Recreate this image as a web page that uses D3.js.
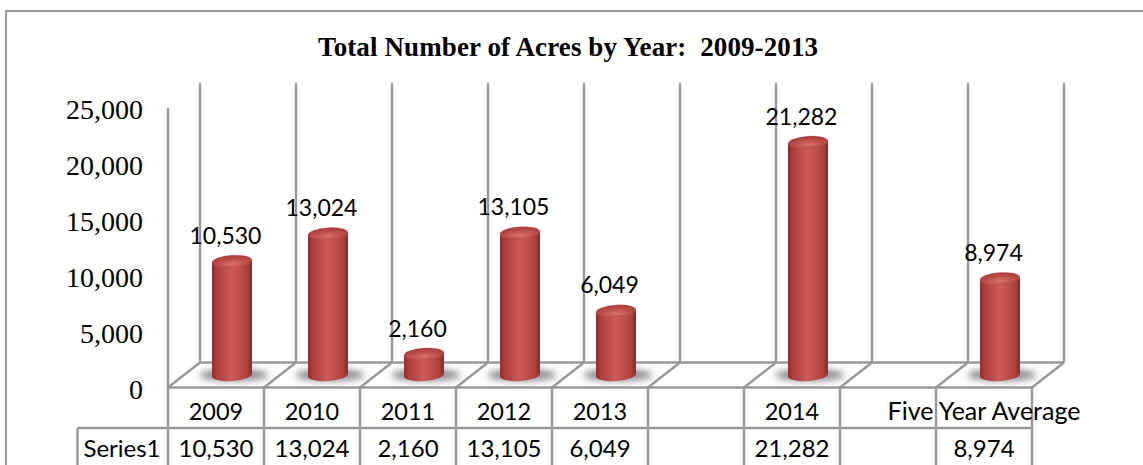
<!DOCTYPE html>
<html><head><meta charset="utf-8">
<script src="https://cdn.jsdelivr.net/npm/d3@7/dist/d3.min.js"></script>
<style>html,body{margin:0;padding:0;background:#fff}svg{display:block}</style>
</head><body><svg id="c" width="1143" height="465"></svg>
<script>
const categories = ["2009","2010","2011","2012","2013","","2014","","Five Year Average"];
const acres = [10530,13024,2160,13105,6049,null,21282,null,8974];
const yTicks = [0,5000,10000,15000,20000,25000];
const titleText = "Total Number of Acres by Year:  2009-2013";
const seriesName = "Series1";

const W=1143,H=465;
const svg=d3.select("#c");
const fmt=d3.format(",");
const defs=svg.append("defs");
const grey="#989898";

const body=defs.append("linearGradient").attr("id","body");
[[0,"#8e2f2d"],[.12,"#a83e3b"],[.5,"#cf5a56"],[.85,"#b04441"],[1,"#8a2d2b"]].forEach(s=>body.append("stop").attr("offset",s[0]).attr("stop-color",s[1]));
const cap=defs.append("radialGradient").attr("id","cap").attr("cy",.7).attr("r",.65);
[[0,"#d9716d"],[.5,"#c0504d"],[1,"#a83f3c"]].forEach(s=>cap.append("stop").attr("offset",s[0]).attr("stop-color",s[1]));
defs.append("filter").attr("id","blur").attr("x","-30%").attr("y","-80%").attr("width","160%").attr("height","260%")
  .append("feGaussianBlur").attr("stdDeviation",3.5);

const x=d3.scaleBand().domain(d3.range(categories.length)).range([168,1032]).paddingInner(0).paddingOuter(0);
const depthX=32, depthY=25;
const floorY=387.5;
const yAxis=d3.scaleLinear().domain([0,25000]).range([floorY,108]);
const yBar=d3.scaleLinear().domain([0,25000]).range([378,101]);
const bw=x.bandwidth();
const boundaries=d3.range(categories.length+1).map(i=>168+i*bw);
const topBack=83, tableMid=428, tableLeft=77.5;
const rx=20, ry=6, tilt=1.4;

// frame
svg.append("path").attr("d",`M6,${H}V11H${W}`).attr("fill","none").attr("stroke",grey).attr("stroke-width",2);

const grid=svg.append("g").attr("stroke",grey).attr("stroke-width",2.4).attr("fill","none");
boundaries.forEach(b=>{
  grid.append("line").attr("x1",b+depthX).attr("x2",b+depthX).attr("y1",topBack).attr("y2",floorY-depthY);
  grid.append("line").attr("x1",b).attr("x2",b+depthX).attr("y1",floorY).attr("y2",floorY-depthY);
  grid.append("line").attr("x1",b).attr("x2",b).attr("y1",floorY).attr("y2",H);
});
grid.append("line").attr("x1",168+depthX).attr("x2",1032+depthX).attr("y1",floorY-depthY).attr("y2",floorY-depthY);
grid.append("line").attr("x1",168).attr("x2",1032).attr("y1",floorY).attr("y2",floorY);
grid.append("line").attr("x1",168).attr("x2",168).attr("y1",108).attr("y2",floorY);
grid.append("line").attr("x1",tableLeft).attr("x2",1032).attr("y1",tableMid).attr("y2",tableMid);
grid.append("line").attr("x1",tableLeft).attr("x2",tableLeft).attr("y1",tableMid).attr("y2",H);

// y tick labels
svg.append("g").selectAll("text").data(yTicks).join("text")
  .attr("x",143).attr("y",d=>yAxis(d)+11).attr("text-anchor","end")
  .attr("font-family","'Liberation Serif',serif").attr("font-size",28).attr("fill","#000")
  .text(d=>fmt(d));

// bars
const data=acres.map((v,i)=>({v,i})).filter(d=>d.v!==null);
const cx=d=>x(d.i)+bw/2+depthX/2;
const shadow=svg.append("g"), bars=svg.append("g");
const baseY=yBar(0)-3;
shadow.selectAll("ellipse").data(data).join("ellipse")
  .attr("cx",d=>cx(d)+2).attr("cy",baseY).attr("rx",35).attr("ry",6)
  .attr("fill","#8a8a8a").attr("filter","url(#blur)");
bars.selectAll("path").data(data).join("path")
  .attr("fill","url(#body)")
  .attr("d",d=>{const c=cx(d),t=yBar(d.v);
    return `M${c-rx},${t+tilt}L${c-rx},${baseY+tilt}A${rx},${ry} -4 0 0 ${c+rx},${baseY-tilt}L${c+rx},${t-tilt}Z`;});
bars.selectAll("ellipse").data(data).join("ellipse")
  .attr("transform",d=>`rotate(-4 ${cx(d)} ${yBar(d.v)})`)
  .attr("cx",cx).attr("cy",d=>yBar(d.v)).attr("rx",rx).attr("ry",ry)
  .attr("fill","url(#cap)").attr("stroke","#b5474380").attr("stroke-width",.5);

// data labels
svg.append("g").selectAll("text").data(data).join("text")
  .attr("x",d=>cx(d)-6.5).attr("y",d=>yBar(d.v)-17.5)
  .attr("text-anchor","middle").attr("font-family","Lato,sans-serif").attr("font-size",23).attr("fill","#000")
  .text(d=>fmt(d.v));

// title
svg.append("text").attr("x",318).attr("y",56).attr("textLength",500).attr("lengthAdjust","spacing")
  .attr("font-family","'Liberation Serif',serif").attr("font-weight","bold").attr("font-size",27).attr("xml:space","preserve").style("white-space","pre").text(titleText);

// table text
const tf="Lato,sans-serif";
svg.append("g").selectAll("text").data(categories.map((c,i)=>({c,i})).filter(d=>d.c)).join("text")
  .attr("x",d=>x(d.i)+bw/2).attr("y",420).attr("text-anchor","middle")
  .attr("font-family",tf).attr("font-size",d=>d.c.length>4?25:23.5).text(d=>d.c);
svg.append("g").selectAll("text").data(data).join("text")
  .attr("x",d=>x(d.i)+bw/2).attr("y",457).attr("text-anchor","middle")
  .attr("font-family",tf).attr("font-size",24).text(d=>fmt(d.v));
svg.append("text").attr("x",122).attr("y",457).attr("text-anchor","middle").attr("font-family",tf).attr("font-size",24).text(seriesName);
</script></body></html>
